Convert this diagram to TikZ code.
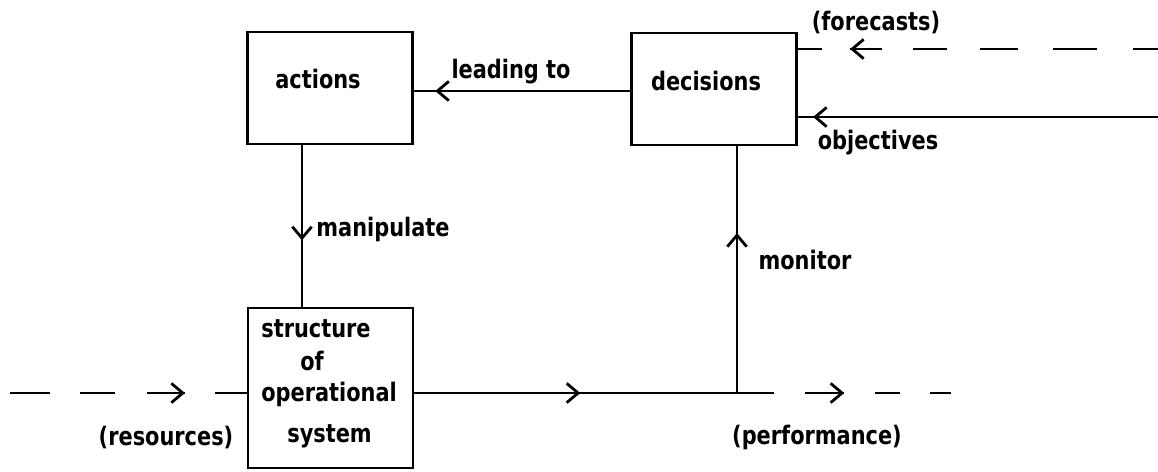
\documentclass[tikz,border=0pt]{standalone}
\usepackage{fontspec}
\setmainfont{DejaVu Sans}[FakeStretch=0.82]
\usetikzlibrary{arrows.meta,decorations.markings}

\begin{document}
\begin{tikzpicture}[x=0.02cm,y=-0.02cm,
  lbl/.style={font=\bfseries\fontsize{14.5}{16}\selectfont, inner sep=0pt},
  box/.style={draw, line width=1.5pt, inner sep=0pt,
              minimum width=3.3cm, minimum height=2.24cm},
  flow/.style={line width=1.6pt},
  barb/.tip={Straight Barb[length=6.5pt,width=11pt,line width=1.6pt]},
  markat/.style={postaction={decorate,decoration={markings,
      mark=at position #1 with {\arrow{barb}}}}},
]
\useasboundingbox (0,0) rectangle (1158,471);

% blocks
\node[box] (actions) at (330,88) {};
\node[box] (decisions) at (714,89) {};
\node[box, minimum height=3.2cm] (structure) at (330.5,388) {};

% texts inside the blocks
\node[lbl, anchor=base] (tact) at (318,88) {actions};
\node[lbl, anchor=base] (tdec) at (706,90) {decisions};
\node[lbl, anchor=base west] (ts1) at (261,337) {structure};
\node[lbl, anchor=base west] (ts2) at (300,370) {of};
\node[lbl, anchor=base west] (ts3) at (261,401) {operational};
\node[lbl, anchor=base west] (ts4) at (287,442) {system};

% helper points for connector positions and free ends
\coordinate (lead) at (0,91);
\coordinate (manx) at (302,0);
\coordinate (tap) at (737,393);
\coordinate (fcend) at (1158,49);
\coordinate (objend) at (1158,117);
\coordinate (resend) at (10,393);
\coordinate (perfend) at (951,393);

% decisions -> actions
\draw[flow, markat=39mm] (decisions.west |- lead) -- (actions.east |- lead);
% actions -> structure
\draw[flow, markat=19mm] (actions.south -| manx) -- (structure.north -| manx);
% performance monitoring back to decisions
\draw[flow, markat=32mm] (tap) -- (tap |- decisions.south);
% objectives into decisions
\draw[flow, markat=69mm] (objend) -- (decisions.east |- objend);
% forecasts into decisions
\draw[flow, markat=61.6mm,
      dash pattern=on 5mm off 7.2mm on 8.8mm off 7mm on 7.6mm off 6.6mm
                   on 6.8mm off 6.2mm on 6.4mm off 5.6mm on 6mm]
  (fcend) -- (decisions.east |- fcend);
% resources into the operational system
\draw[flow, markat=35mm,
      dash pattern=on 8mm off 6mm on 7mm off 6.4mm on 7.6mm off 6mm on 6.6mm]
  (resend) -- (structure.west |- resend);
% performance out of the operational system
\draw[flow, markat=33.2mm, markat=86mm,
      dash pattern=on 72mm off 6.2mm on 7.8mm off 6.2mm on 5mm off 6mm on 4.6mm]
  (structure.east |- perfend) -- (perfend);

% connector labels
\node[lbl] (tlead) at (511,72) {leading to};
\node[lbl] (tman) at (383,229) {manipulate};
\node[lbl] (tmon) at (805,260) {monitor};
\node[lbl] (tfc) at (876,22) {(forecasts)};
\node[lbl] (tobj) at (878,143) {objectives};
\node[lbl] (tres) at (166,437) {(resources)};
\node[lbl] (tperf) at (817,437) {(performance)};
\end{tikzpicture}
\end{document}
